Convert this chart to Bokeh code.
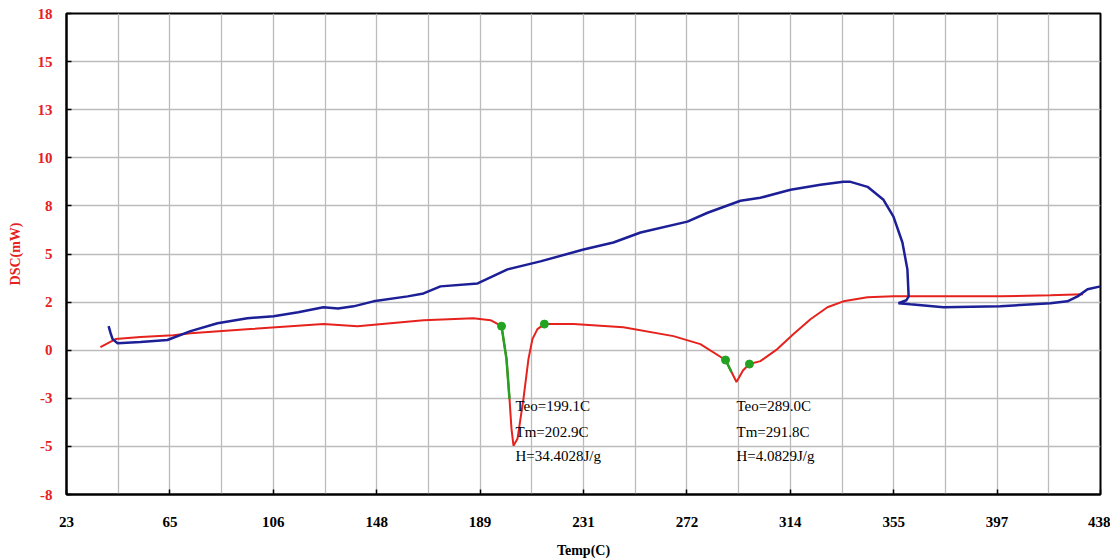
from bokeh.plotting import figure
from bokeh.models import FixedTicker, Range1d
from bokeh.embed import file_html
from bokeh.resources import INLINE
from bokeh.core.properties import value

# ---- data ----
x_ticks = [23, 64.5, 106, 147.5, 189, 230.5, 272, 313.5, 355, 396.5, 438]
x_tick_labels = ["23", "65", "106", "148", "189", "231", "272", "314", "355", "397", "438"]
x_minor = [43.75, 85.25, 126.75, 168.25, 209.75, 251.25, 292.75, 334.25, 375.75, 417.25]
y_ticks = [-8, -5.4, -2.8, -0.2, 2.4, 5, 7.6, 10.2, 12.8, 15.4, 18]
y_tick_labels = ["-8", "-5", "-3", "0", "2", "5", "8", "10", "13", "15", "18"]

red_temp = [36.6, 42.7, 52.7, 65.9, 72.8, 96.8, 126.1, 139.8, 166.3, 186.3, 193.2, 197.6,
            199.6, 200.8, 201.6, 202.4, 204.0, 206.4, 208.4, 210.0, 212.0, 214.8, 226.5,
            246.5, 266.6, 277.4, 287.5, 289.9, 291.9, 294.5, 297.1, 301.5, 308.3, 314.8,
            321.6, 328.4, 334.8, 344.5, 354.9, 397.8, 417.9, 431.0]
red_dsc = [-0.03, 0.40, 0.51, 0.61, 0.72, 0.94, 1.21, 1.10, 1.42, 1.53, 1.42, 1.10,
           -0.68, -2.83, -4.45, -5.36, -4.99, -2.83, -0.68, 0.40, 0.94, 1.21, 1.21,
           1.04, 0.56, 0.13, -0.73, -1.38, -1.92, -1.30, -0.95, -0.79, -0.14, 0.67,
           1.47, 2.12, 2.44, 2.66, 2.71, 2.71, 2.77, 2.82]

green1_temp = [197.6, 199.6, 200.8]
green1_dsc = [1.10, -0.68, -2.83]
green2_temp = [287.5, 289.9]
green2_dsc = [-0.73, -1.38]

marker_temp = [197.6, 214.8, 287.5, 297.1]
marker_dsc = [1.10, 1.21, -0.73, -0.95]

blue_temp = [39.9, 40.7, 41.5, 43.5, 52.7, 63.5, 72.8, 83.6, 95.6, 106.1, 116.0, 126.1,
             132.0, 138.2, 146.2, 159.9, 166.3, 173.1, 188.0, 200.0, 213.2, 230.5, 242.5,
             253.4, 272.2, 280.3, 293.5, 301.5, 313.6, 325.6, 334.8, 337.7, 344.5, 350.9,
             354.9, 358.5, 360.5, 361.0, 360.1, 356.9, 361.7, 375.0, 397.8, 417.9, 424.7,
             428.8, 432.8, 438.0]
blue_dsc = [1.10, 0.72, 0.40, 0.18, 0.24, 0.35, 0.83, 1.26, 1.53, 1.64, 1.85, 2.12,
            2.05, 2.17, 2.44, 2.71, 2.87, 3.25, 3.41, 4.17, 4.60, 5.24, 5.62,
            6.16, 6.75, 7.23, 7.88, 8.04, 8.47, 8.74, 8.90, 8.90, 8.63, 7.93,
            7.02, 5.62, 4.17, 2.71, 2.50, 2.34, 2.28, 2.12, 2.17, 2.34, 2.44,
            2.71, 3.09, 3.25]

peak1_texts = ["Teo=199.1C", "Tm=202.9C", "H=34.4028J/g"]
peak2_texts = ["Teo=289.0C", "Tm=291.8C", "H=4.0829J/g"]
text_rows_dsc = [-3.21, -4.61, -5.90]
peak1_text_temp = 203.2
peak2_text_temp = 291.9

RED = "#e5221d"
BLUE = "#1c1f96"
GREEN = "#22a322"
SERIF = "Liberation Serif"

p = figure(width=1110, height=560, output_backend="svg", toolbar_location=None,
           x_range=Range1d(23, 438), y_range=Range1d(-8, 18),
           min_border_left=66, min_border_right=10, min_border_top=13, min_border_bottom=64)
p.background_fill_color = "white"
p.border_fill_color = "white"
p.outline_line_color = "black"
p.outline_line_width = 2

p.xaxis.ticker = FixedTicker(ticks=x_ticks, minor_ticks=x_minor)
p.yaxis.ticker = FixedTicker(ticks=y_ticks)
p.xaxis.major_label_overrides = dict(zip(x_ticks, x_tick_labels))
p.yaxis.major_label_overrides = dict(zip(y_ticks, y_tick_labels))

for ax in (p.xaxis, p.yaxis):
    ax.axis_line_color = "black"
    ax.axis_line_width = 2
    ax.major_tick_in = 5
    ax.major_tick_out = 0
    ax.major_tick_line_color = "black"
    ax.major_tick_line_width = 1.5
    ax.minor_tick_line_color = None
    ax.major_label_text_font = SERIF
    ax.major_label_text_font_style = "bold"
    ax.major_label_text_font_size = "15px"
    ax.axis_label_text_font = SERIF
    ax.axis_label_text_font_style = "bold"

p.xaxis.major_label_text_color = "black"
p.xaxis.major_label_standoff = 18
p.xaxis.axis_label = "Temp(C)"
p.xaxis.axis_label_text_color = "black"
p.xaxis.axis_label_text_font_size = "14px"
p.xaxis.axis_label_standoff = 13

p.yaxis.major_label_text_color = RED
p.yaxis.major_label_standoff = 14
p.yaxis.axis_label = "DSC(mW)"
p.yaxis.axis_label_text_color = RED
p.yaxis.axis_label_text_font_size = "14px"
p.yaxis.axis_label_standoff = 12

p.xgrid.grid_line_color = "#bcbcbc"
p.xgrid.grid_line_width = 1.3
p.xgrid.minor_grid_line_color = "#bcbcbc"
p.xgrid.minor_grid_line_width = 1.3
p.ygrid.grid_line_color = "#bcbcbc"
p.ygrid.grid_line_width = 1.3

p.line(red_temp, red_dsc, line_color=RED, line_width=2)
p.line(blue_temp, blue_dsc, line_color=BLUE, line_width=2.5)
p.line(green1_temp, green1_dsc, line_color=GREEN, line_width=2.5)
p.line(green2_temp, green2_dsc, line_color=GREEN, line_width=2.5)
p.scatter(marker_temp, marker_dsc, size=8, fill_color=GREEN, line_color=GREEN)

p.text(x=[peak1_text_temp] * 3, y=text_rows_dsc, text=peak1_texts,
       text_font=value(SERIF), text_font_size="15px", text_color="black",
       text_align="left", text_baseline="middle")
p.text(x=[peak2_text_temp] * 3, y=text_rows_dsc, text=peak2_texts,
       text_font=value(SERIF), text_font_size="15px", text_color="black",
       text_align="left", text_baseline="middle")

open("out.html", "w").write(file_html(p, INLINE))
